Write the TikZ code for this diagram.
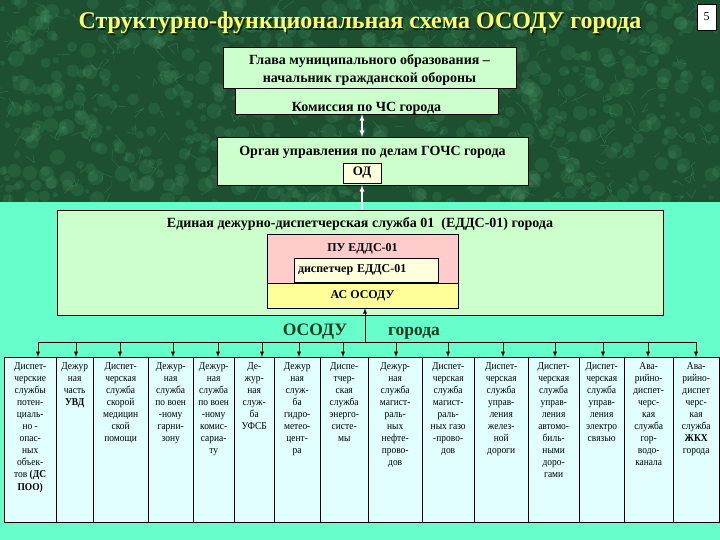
\documentclass[tikz,border=0pt]{standalone}
\usepackage{fontspec}
\setmainfont{Liberation Serif}

\definecolor{marble}{HTML}{1C5030}
\definecolor{vein}{HTML}{4FA06E}
\definecolor{aqua}{HTML}{66FFCC}
\definecolor{boxgreen}{HTML}{CCFFCC}
\definecolor{pupink}{HTML}{FFCCCC}
\definecolor{cream}{HTML}{FFFFDD}
\definecolor{asyellow}{HTML}{FFFF99}
\definecolor{colcyan}{HTML}{E2FFFF}
\definecolor{titleyellow}{HTML}{FFFF66}
\definecolor{osodugreen}{HTML}{0B3B1E}

\tikzset{
  box/.style={draw=black, fill=boxgreen, font=\bfseries\fontsize{12}{14}\selectfont, align=center, inner sep=1pt},
  boxtext/.style={font=\bfseries\fontsize{14}{18}\selectfont, align=center, inner sep=0pt},
  col/.style={draw=black, fill=colcyan, anchor=north west, inner sep=0pt, minimum height=165pt},
  coltext/.style={anchor=north, font=\fontsize{10.5}{12.1}\selectfont\addfontfeatures{FakeStretch=0.9}, align=center, inner sep=0pt, yshift=-5pt},
  big/.style={font=\bfseries\fontsize{17.5}{20}\selectfont, text=osodugreen, anchor=base},
  bus/.style={draw=black, line width=0.9pt},
  wire/.style={draw=white, line width=1.2pt},
}

\begin{document}
\begin{tikzpicture}[x=1pt, y=-1pt]
  \useasboundingbox (0,0) rectangle (720,540);

  % background
  \fill[aqua] (0,0) rectangle (720,540);
  \begin{scope}
    \clip (0,0) rectangle (720,202);
    \fill[marble] (0,0) rectangle (720,202);
    \pgfmathsetseed{5}
    \foreach \k in {1,...,700}
      \fill[vein, opacity=0.18] ({720*rnd},{202*rnd}) circle ({2+6*rnd});
    \foreach \k in {1,...,300}
      \draw[vein, opacity=0.4, line width=0.5pt] ({720*rnd},{202*rnd}) -- ++({10*rand},{10*rand}) -- ++({10*rand},{10*rand});
  \end{scope}

  % title
  \node[font=\bfseries\fontsize{24}{28}\selectfont, text=black, opacity=0.6] (titleshadow) at (361.5,24.5) {Структурно-функциональная схема ОСОДУ города};
  \node[font=\bfseries\fontsize{24}{28}\selectfont, text=titleyellow] (title) at (360,23) {Структурно-функциональная схема ОСОДУ города};
  \node[draw=black, fill=white, minimum width=19pt, minimum height=26pt, inner sep=0pt, font=\fontsize{12}{12}\selectfont] (page) at (706.5,17) {5};

  % upper boxes
  \node[box, minimum width=293pt, minimum height=41pt] (glava) at (369.5,67.5) {};
  \node[boxtext] (glavatext) at (369.5,70) {Глава муниципального образования –\\начальник гражданской обороны};
  \node[box, minimum width=263pt, minimum height=26pt] (komis) at (366.5,101) {};
  \node[boxtext, anchor=base] (komistext) at (366.5,112) {Комиссия по ЧС города};

  \node[box, minimum width=311pt, minimum height=48pt] (organ) at (372.5,161) {};
  \node[boxtext, anchor=base] (organtext) at (372.5,156) {Орган управления по делам ГОЧС города};
  \node[box, fill=cream, minimum width=38pt, minimum height=20pt, font=\bfseries\fontsize{13}{14}\selectfont] (od) at (362,173) {ОД};

  \draw[wire, latex-latex] (komis.south -| od) -- (organ.north -| od);

  % ЕДДС
  \node[box, minimum width=606pt, minimum height=105pt] (edds) at (360,262.5) {};
  \node[boxtext, anchor=base] (eddstext) at (360,228) {Единая дежурно-диспетчерская служба 01\ \ (ЕДДС-01) города};
  \draw[wire, -latex] (edds.north -| od) -- (organ.south -| od);

  \node[box, fill=pupink, minimum width=191pt, minimum height=49pt] (pu) at (362.5,258.5) {};
  \node[box, draw=none, fill=none, anchor=base] (putext) at (362.5,251.5) {ПУ ЕДДС-01};
  \node[box, fill=cream, minimum width=144pt, minimum height=24pt, text width=136pt, align=left] (disp) at (366,270) {диспетчер ЕДДС-01};
  \node[box, fill=asyellow, minimum width=191pt, minimum height=25pt] (as) at (362.5,295.5) {АС ОСОДУ};

  % ОСОДУ города
  \coordinate (hub) at (365,342);
  \draw[bus, -latex] (hub) -- (hub |- as.south);
  \node[big] (osodu) at (315,335.5) {ОСОДУ};
  \node[big] (goroda) at (414,335.5) {города};

  % services
  \foreach \l/\r/\ax/\txt [count=\i] in {
      4/56/38/{Диспет-\\черские\\службы\\потен-\\циаль-\\но -\\опас-\\ных\\объек-\\тов \textbf{(ДС}\\\textbf{ПОО)}},
      56/93/76/{Дежур\\ная\\часть\\\textbf{УВД}},
      93/148/120/{Диспет-\\черская\\служба\\скорой\\медицин\\ской\\помощи},
      148/193/173/{Дежур-\\ная\\служба\\по воен\\-ному\\гарни-\\зону},
      193/234/218/{Дежур-\\ная\\служба\\по воен\\-ному\\комис-\\сариа-\\ту},
      234/274/262/{Де-\\жур-\\ная\\служ-\\ба\\УФСБ},
      274/320/299/{Дежур\\ная\\служ-\\ба\\гидро-\\метео-\\цент-\\ра},
      320/368/343/{Диспе-\\тчер-\\ская\\служба\\энерго-\\систе-\\мы},
      368/422/396/{Дежур-\\ная\\служба\\магист-\\раль-\\ных\\нефте-\\прово-\\дов},
      422/474/448/{Диспет-\\черская\\служба\\магист-\\раль-\\ных газо\\-прово-\\дов},
      474/528/503/{Диспет-\\черская\\служба\\управ-\\ления\\желез-\\ной\\дороги},
      528/579/555/{Диспет-\\черская\\служба\\управ-\\ления\\автомо-\\биль-\\ными\\доро-\\гами},
      579/624/603/{Диспет-\\черская\\служба\\управ-\\ления\\электро\\связью},
      624/673/648/{Ава-\\рийно-\\диспет-\\черс-\\кая\\служба\\гор-\\водо-\\канала},
      673/719/696/{Ава-\\рийно-\\диспет\\черс-\\кая\\служба\\\textbf{ЖКХ}\\города}}{
    \node[col, minimum width=\r pt-\l pt, label={[coltext]north:\txt}] (c\i) at (\l,357) {};
    \coordinate (a\i) at (\ax,342);
    \draw[bus, -latex] (a\i) -- (a\i |- c\i.north);
  }
  \draw[bus] (a1) -- (a15);
\end{tikzpicture}
\end{document}
